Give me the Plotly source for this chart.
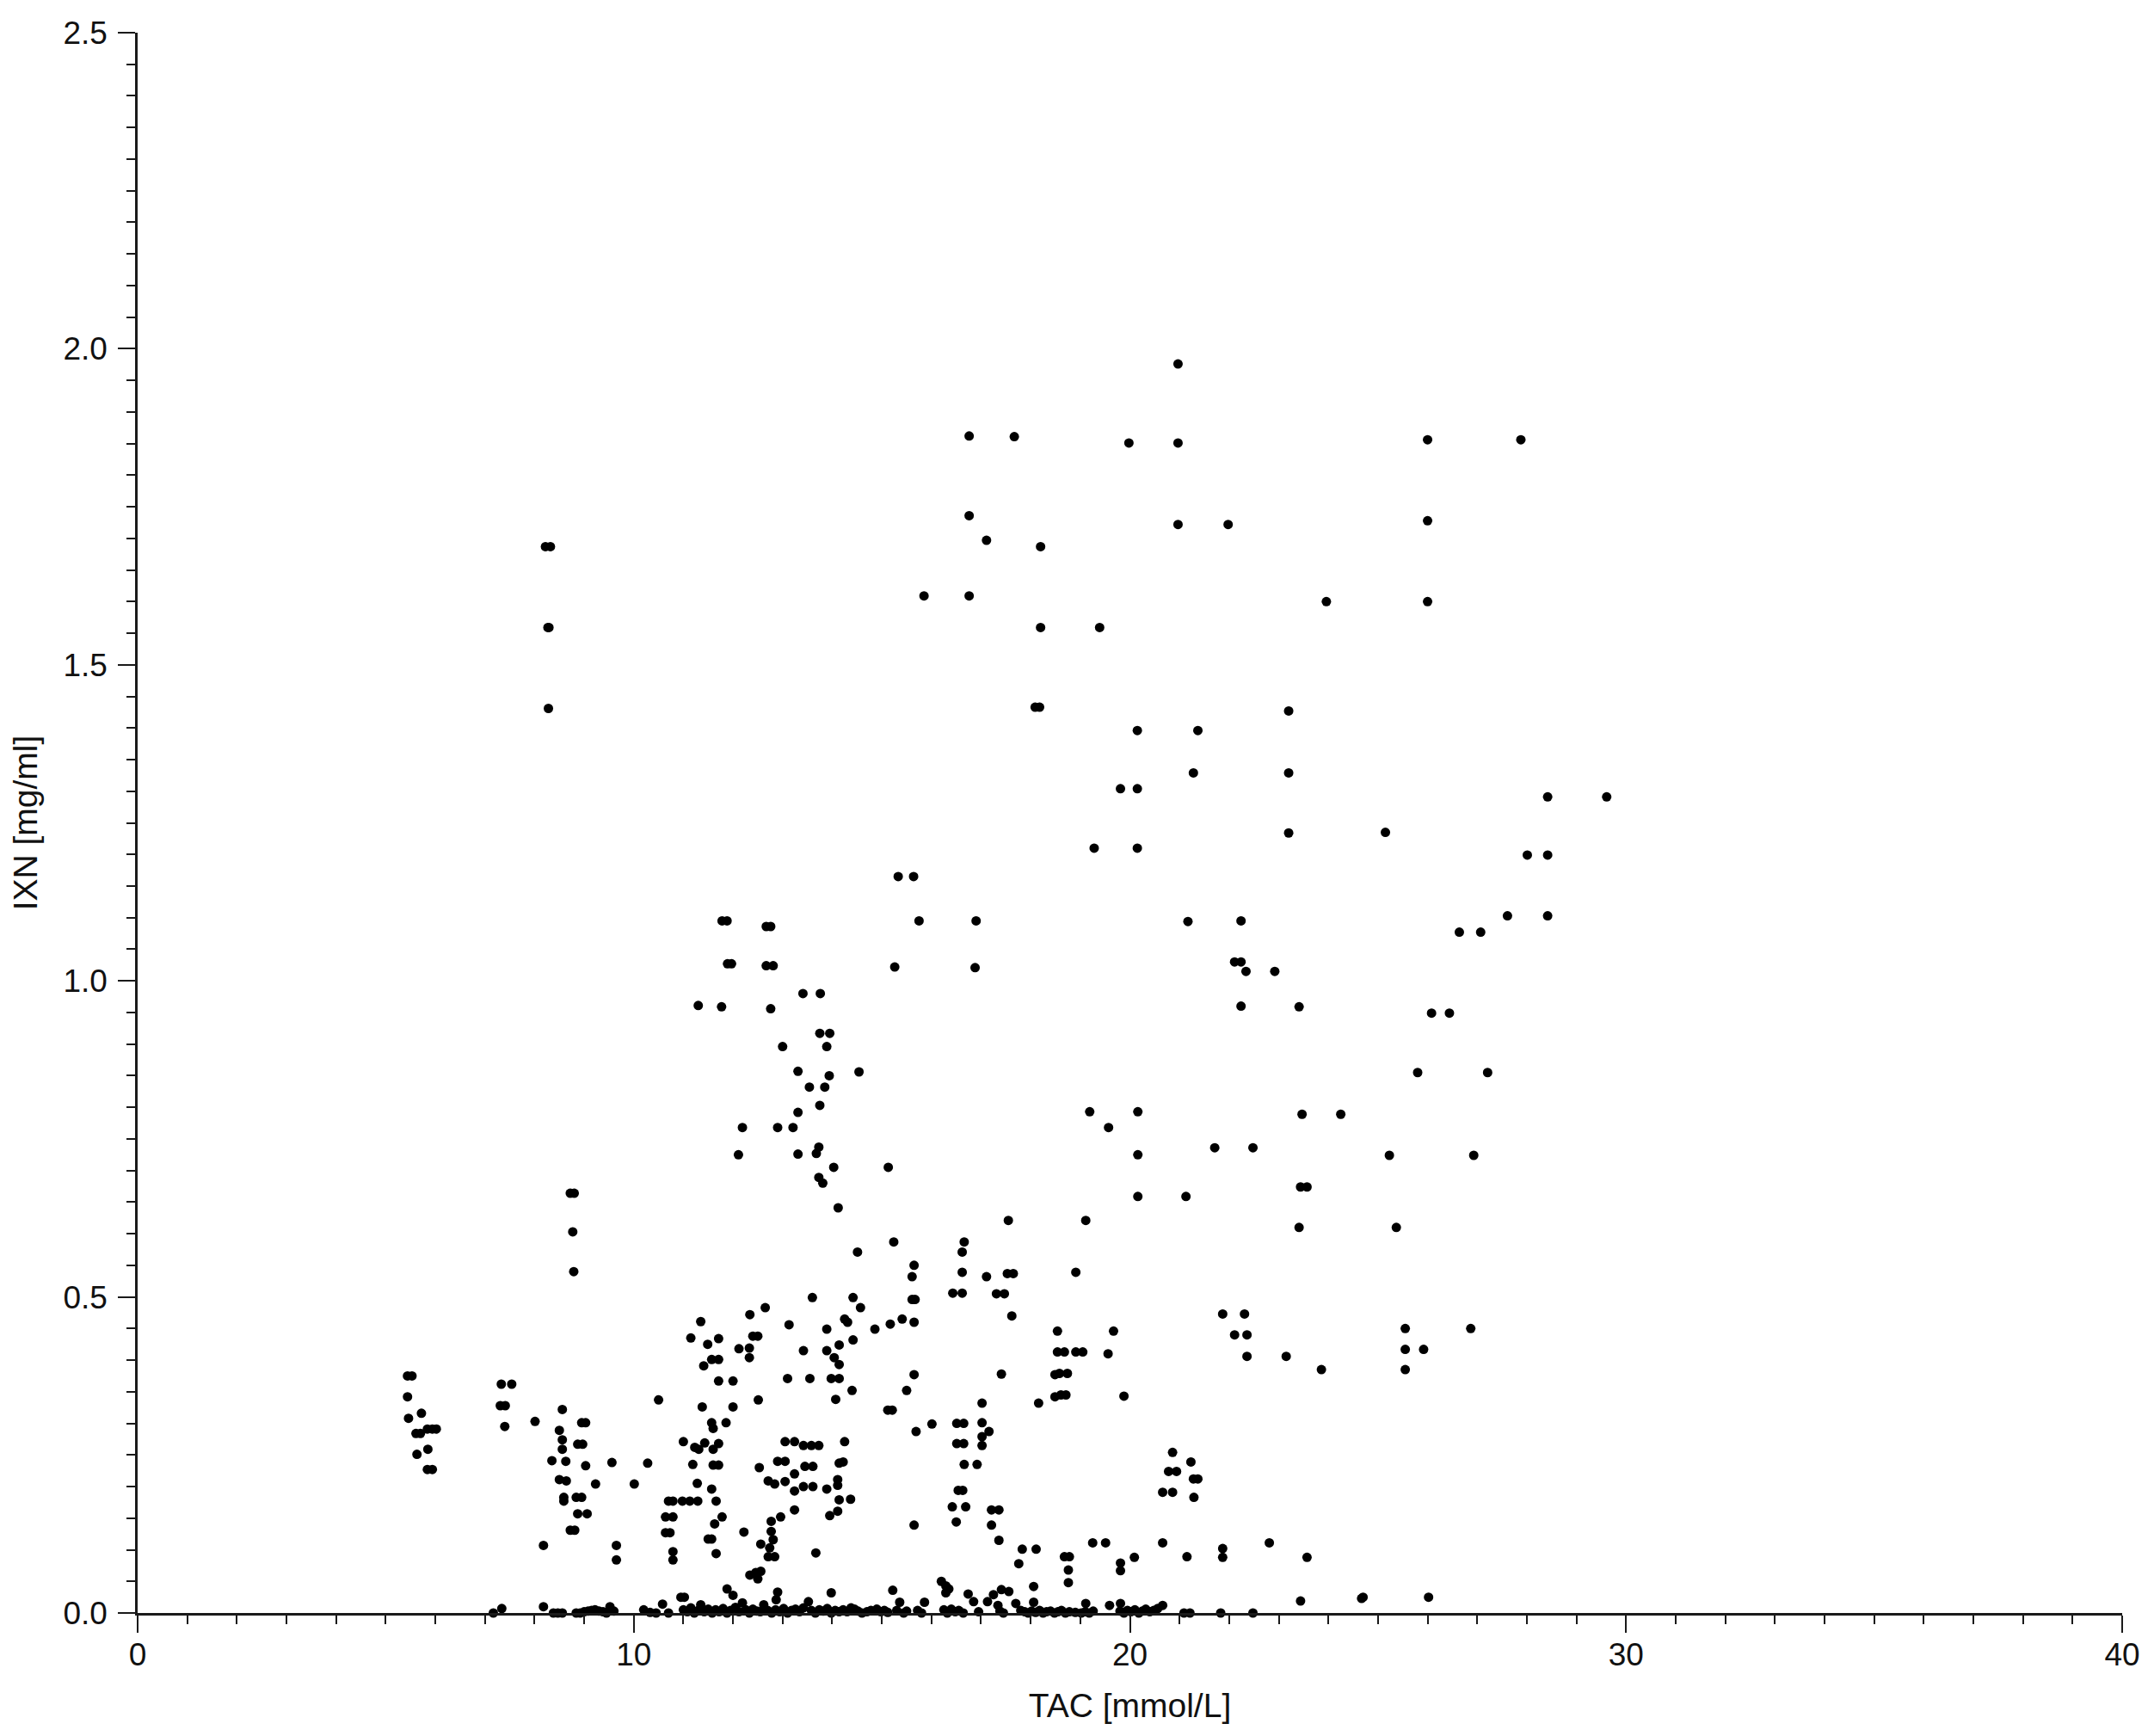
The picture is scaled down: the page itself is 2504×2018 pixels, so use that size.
import plotly.graph_objects as go

# ---- data (TAC [mmol/L] vs IXN [mg/ml]) ----
tac_left = [5.44, 5.53, 5.44, 5.46, 5.72, 5.61, 5.70, 5.84, 5.94, 6.02, 5.85, 5.63, 5.84, 5.94,
            7.33, 7.54, 7.31, 7.41, 7.40, 8.01,
            8.18, 8.56, 8.50, 8.56, 8.56, 8.35, 8.63, 8.50, 8.64, 8.59, 8.59, 8.84, 8.95, 8.87, 9.06,
            8.72, 8.81, 8.79, 8.95, 9.03, 8.87, 8.97, 9.03, 9.23, 9.56, 9.65, 9.65, 10.01, 10.28, 10.50,
            8.22, 8.32, 8.27, 8.29, 8.28, 8.72, 8.80, 8.77]
ixn_left = [0.375, 0.375, 0.342, 0.308, 0.316, 0.284, 0.284, 0.291, 0.291, 0.291, 0.259, 0.251, 0.227, 0.227,
            0.362, 0.362, 0.328, 0.328, 0.295, 0.303,
            0.107, 0.322, 0.289, 0.274, 0.259, 0.241, 0.240, 0.211, 0.209, 0.183, 0.177, 0.183, 0.183, 0.157, 0.157,
            0.131, 0.131, 0.540, 0.301, 0.301, 0.267, 0.267, 0.233, 0.204, 0.238, 0.107, 0.084, 0.204, 0.237, 0.337,
            1.687, 1.687, 1.559, 1.559, 1.431, 0.664, 0.664, 0.603]

tac_mid = [10.70, 10.79, 10.64, 10.79, 10.64, 10.73, 10.79, 10.79,
           11.00, 10.98, 11.13, 11.29, 11.19, 11.23, 11.31, 11.43, 11.28,
           11.15, 11.35, 11.49, 11.71, 11.41, 11.57, 11.71, 11.71, 12.00, 11.38, 12.00, 11.57, 11.60, 11.86,
           11.60, 11.71, 11.60, 11.71, 11.57, 11.66, 11.78, 11.63, 11.50, 11.57, 11.66, 11.88, 12.00, 12.22,
           12.12, 12.33, 12.33, 12.34, 12.40, 12.50, 12.65, 12.51, 12.53, 12.71, 12.84, 12.90, 13.05, 13.05,
           13.24, 13.05, 13.24, 13.24, 13.24, 12.96,
           12.77, 12.77, 12.81, 12.74, 12.71, 12.84, 12.56, 12.34, 12.46, 12.56, 12.50, 12.90, 12.87,
           13.13, 13.42, 13.10, 13.55, 13.60, 13.89, 13.89, 14.14, 14.04, 14.14, 13.98, 14.14, 14.07,
           13.42, 13.58, 13.73, 13.45, 13.61, 13.42, 13.61, 13.89, 13.67, 14.14, 14.11, 14.11, 14.14,
           13.95, 14.11, 13.98]
ixn_mid = [0.177, 0.177, 0.152, 0.152, 0.127, 0.127, 0.097, 0.084,
           0.271, 0.177, 0.177, 0.177, 0.235, 0.262, 0.259, 0.269, 0.205,
           0.435, 0.461, 0.425, 0.434, 0.391, 0.401, 0.401, 0.367, 0.367, 0.326, 0.326, 0.301, 0.292, 0.301,
           0.259, 0.268, 0.234, 0.234, 0.196, 0.177, 0.152, 0.141, 0.117, 0.117, 0.094, 0.038, 0.028, 0.128,
           0.418, 0.419, 0.404, 0.472, 0.438, 0.438, 0.483, 0.337, 0.230, 0.209, 0.204, 0.240, 0.240, 0.271,
           0.271, 0.208, 0.220, 0.193, 0.163, 0.152,
           0.145, 0.129, 0.116, 0.103, 0.089, 0.089, 0.109, 0.060, 0.064, 0.066, 0.054, 0.033, 0.021,
           0.456, 0.415, 0.371, 0.371, 0.499, 0.449, 0.415, 0.424, 0.404, 0.393, 0.371, 0.371, 0.338,
           0.265, 0.265, 0.265, 0.232, 0.232, 0.200, 0.200, 0.196, 0.095, 0.237, 0.211, 0.202, 0.179,
           0.154, 0.161, 0.032]

tac_mid_high = [11.78, 11.88, 12.67, 12.76, 11.89, 11.97, 12.67, 12.81, 13.41, 13.76, 11.30, 11.77, 12.76,
                13.75, 13.95, 13.00, 13.89, 13.31, 13.94, 13.54, 13.85, 13.75, 13.31, 12.19, 12.90, 13.21,
                12.11, 13.31, 13.73, 13.68, 14.03, 13.73, 13.81, 14.12]
ixn_mid_high = [1.095, 1.095, 1.086, 1.086, 1.027, 1.027, 1.024, 1.024, 0.980, 0.980, 0.961, 0.959, 0.956,
                0.917, 0.917, 0.896, 0.896, 0.857, 0.850, 0.832, 0.832, 0.803, 0.792, 0.768, 0.768, 0.768,
                0.725, 0.726, 0.737, 0.727, 0.705, 0.689, 0.680, 0.641]

tac_center = [15.24, 14.51, 16.66, 16.62, 16.62, 16.43, 16.62, 15.65, 15.61, 15.61, 15.67, 15.65, 14.42, 14.57,
              14.25, 14.31, 14.86, 15.17, 15.41, 14.42, 17.11, 17.31, 17.47, 17.53, 17.65, 17.62, 18.91,
              15.65, 15.50, 14.40, 15.12, 15.21, 15.69, 16.01, 14.25, 14.22, 14.37, 15.65, 17.41,
              16.51, 16.65, 16.51, 16.65, 16.66, 16.92, 16.54, 16.63, 16.42, 16.69, 16.50,
              17.02, 17.02, 17.16, 17.02, 17.02, 17.21, 17.36, 17.21, 17.36, 18.16,
              18.54, 18.54, 18.68, 18.49, 18.58, 18.74, 18.49, 18.61, 18.71, 18.91, 19.05, 19.67, 19.56, 19.88,
              17.83, 18.11, 17.76, 18.06, 18.68, 18.78, 18.76, 18.76, 19.25, 19.51, 19.81, 19.81, 20.09,
              20.66, 21.15, 21.87, 21.87, 22.81, 23.57, 23.44,
              20.86, 20.78, 20.94, 20.66, 20.86, 21.23, 21.28, 21.37, 21.29,
              21.87, 22.31, 22.11, 22.36, 22.36, 23.15, 23.86,
              15.22, 15.36, 15.86, 16.20, 16.29, 16.35, 16.29, 16.74, 16.85, 17.13, 17.25, 17.41, 17.56,
              17.34, 17.70, 18.06, 19.11, 19.59, 19.81, 20.66]
ixn_center = [0.587, 0.571, 0.587, 0.571, 0.539, 0.506, 0.506, 0.550, 0.532, 0.496, 0.496, 0.460, 0.499, 0.483,
              0.465, 0.460, 0.449, 0.457, 0.465, 0.432, 0.532, 0.505, 0.505, 0.537, 0.537, 0.470, 0.539,
              0.377, 0.352, 0.352, 0.321, 0.321, 0.287, 0.299, 0.271, 0.239, 0.180, 0.139, 0.378,
              0.300, 0.300, 0.268, 0.268, 0.235, 0.235, 0.194, 0.194, 0.168, 0.168, 0.144,
              0.332, 0.301, 0.287, 0.279, 0.265, 0.163, 0.163, 0.139, 0.115, 0.332,
              0.446, 0.413, 0.413, 0.377, 0.379, 0.379, 0.342, 0.345, 0.345, 0.413, 0.413, 0.446, 0.410, 0.343,
              0.101, 0.101, 0.078, 0.042, 0.089, 0.089, 0.068, 0.048, 0.111, 0.111, 0.079, 0.067, 0.088,
              0.111, 0.089, 0.102, 0.088, 0.111, 0.088, 0.019,
              0.254, 0.224, 0.224, 0.191, 0.191, 0.239, 0.212, 0.212, 0.183,
              0.473, 0.473, 0.440, 0.440, 0.406, 0.406, 0.385,
              0.036, 0.017, 0.017, 0.050, 0.043, 0.038, 0.032, 0.030, 0.018, 0.018, 0.029, 0.037, 0.034,
              0.012, 0.015, 0.017, 0.015, 0.012, 0.015, 0.012]

tac_center_high = [15.33, 15.64, 15.75, 16.90, 15.26, 16.88, 21.17, 22.24, 22.11, 22.24, 22.34, 22.92, 22.24,
                   23.41, 14.54, 19.19, 20.16, 19.57, 20.16, 21.71, 22.48, 23.47, 23.44, 23.57, 23.41, 20.16,
                   21.13, 15.13, 17.55, 19.11,
                   20.97, 16.76, 17.67, 19.98, 20.97, 16.76, 17.11, 18.20, 20.97, 21.98, 15.85, 16.76, 18.20,
                   19.39, 18.09, 18.18, 23.20, 23.96,
                   20.15, 21.37, 21.28, 23.20, 19.81, 20.15, 23.20, 19.28, 20.15]
ixn_center_high = [1.165, 1.165, 1.095, 1.095, 1.022, 1.021, 1.094, 1.095, 1.030, 1.030, 1.015, 1.015, 0.960,
                   0.959, 0.856, 0.793, 0.793, 0.768, 0.725, 0.736, 0.736, 0.789, 0.674, 0.674, 0.610, 0.659,
                   0.659, 0.705, 0.621, 0.621,
                   1.976, 1.862, 1.861, 1.851, 1.851, 1.736, 1.697, 1.687, 1.722, 1.722, 1.609, 1.609, 1.559,
                   1.559, 1.433, 1.433, 1.427, 1.600,
                   1.396, 1.396, 1.329, 1.329, 1.304, 1.304, 1.234, 1.210, 1.210]

tac_right = [26.00, 27.88, 26.00, 26.00, 28.42, 29.61, 25.15, 28.01, 28.42, 27.61, 28.42, 26.64, 27.07,
             26.08, 26.44, 25.80, 27.21, 24.25, 25.23, 26.93, 25.37, 25.55, 26.87, 25.55, 25.92, 25.55,
             24.67, 24.70, 26.02]
ixn_right = [1.856, 1.856, 1.728, 1.600, 1.291, 1.291, 1.235, 1.199, 1.199, 1.103, 1.103, 1.077, 1.077,
             0.949, 0.949, 0.855, 0.855, 0.789, 0.724, 0.724, 0.610, 0.450, 0.450, 0.417, 0.417, 0.385,
             0.023, 0.025, 0.025]

tac_baseline = [7.17, 7.34, 8.18, 8.38, 8.47, 8.56, 8.84, 8.92, 9.00, 9.08, 9.15, 9.22, 9.30, 9.38, 9.45,
                9.52, 9.60, 10.20, 10.33, 10.45, 10.58, 10.70,
                10.95, 11.02, 11.00, 11.08, 11.15, 11.22, 11.30, 11.35, 11.42, 11.50, 11.58, 11.65, 11.72,
                11.80, 11.88, 11.95, 12.05, 12.12, 12.19, 12.26, 12.33, 12.40, 12.48, 12.55, 12.62, 12.70,
                12.78, 12.86, 12.94, 13.02, 13.10, 13.18, 13.26, 13.34, 13.42, 13.52, 13.58, 13.66, 13.74,
                13.82, 13.90, 13.98, 14.06, 14.14,
                14.22, 14.30, 14.38, 14.45, 14.52, 14.60, 14.70, 14.78, 14.90, 14.98, 15.05, 15.12, 15.30,
                15.44, 15.50, 15.72, 15.80, 16.25, 16.32, 16.40, 16.48, 16.55, 16.64, 16.95, 17.38, 17.45,
                17.80, 17.88, 17.95, 18.02, 18.10, 18.18, 18.25, 18.32, 18.40, 18.48, 18.55, 18.62, 18.70,
                18.78, 18.90, 19.02, 19.10, 19.18, 19.26, 19.80, 19.88, 19.95, 20.02, 20.10, 20.18, 20.25,
                20.32, 20.40, 20.48, 20.56, 21.09, 21.21, 21.83, 22.48]
ixn_baseline = [0.000, 0.007, 0.010, 0.000, 0.000, 0.000, 0.000, 0.000, 0.002, 0.003, 0.004, 0.005, 0.003,
                0.002, 0.000, 0.010, 0.003, 0.005, 0.001, 0.000, 0.014, 0.000,
                0.025, 0.025, 0.005, 0.002, 0.008, 0.000, 0.004, 0.013, 0.002, 0.006, 0.000, 0.005, 0.002,
                0.007, 0.000, 0.004, 0.009, 0.002, 0.016, 0.005, 0.000, 0.006, 0.003, 0.002, 0.013, 0.004,
                0.000, 0.005, 0.002, 0.007, 0.000, 0.004, 0.006, 0.002, 0.008, 0.018, 0.004, 0.000, 0.005,
                0.003, 0.007, 0.000, 0.004, 0.002,
                0.005, 0.002, 0.008, 0.006, 0.003, 0.000, 0.002, 0.004, 0.006, 0.002, 0.004, 0.001, 0.004,
                0.000, 0.003, 0.004, 0.000, 0.005, 0.000, 0.006, 0.002, 0.004, 0.000, 0.002, 0.003, 0.000,
                0.004, 0.002, 0.000, 0.003, 0.001, 0.004, 0.000, 0.002, 0.003, 0.000, 0.002, 0.004, 0.000,
                0.002, 0.001, 0.000, 0.002, 0.000, 0.003, 0.003, 0.000, 0.004, 0.002, 0.005, 0.000, 0.003,
                0.006, 0.002, 0.004, 0.007, 0.000, 0.000, 0.000, 0.000]

x_tick_vals = [0, 10, 20, 30, 40]
y_tick_vals = [0.0, 0.5, 1.0, 1.5, 2.0, 2.5]
x_title = "TAC [mmol/L]"
y_title = "IXN [mg/ml]"

groups = [
    (tac_left, ixn_left),
    (tac_mid, ixn_mid),
    (tac_mid_high, ixn_mid_high),
    (tac_center, ixn_center),
    (tac_center_high, ixn_center_high),
    (tac_right, ixn_right),
    (tac_baseline, ixn_baseline),
]

fig = go.Figure()
for gx, gy in groups:
    fig.add_trace(go.Scatter(
        x=gx, y=gy, mode="markers", cliponaxis=False, showlegend=False,
        marker=dict(color="black", size=11, line=dict(width=0)),
    ))

font_family = "Liberation Sans, Arial, Helvetica, sans-serif"
axis_common = dict(
    showgrid=False, zeroline=False, showline=True, linecolor="#1a1a1a", linewidth=2.5,
    ticks="outside", ticklen=20, tickwidth=2.2, tickcolor="#1a1a1a", automargin=False,
    tickfont=dict(family=font_family, size=37, color="#111"),
)

fig.update_layout(
    width=2504, height=2018,
    paper_bgcolor="white", plot_bgcolor="white",
    margin=dict(l=152, r=45, t=30, b=151),
    font=dict(family=font_family, color="#111"),
    xaxis=dict(
        range=[0, 40], tickvals=x_tick_vals, ticktext=[str(v) for v in x_tick_vals],
        ticklabelstandoff=-6,
        minor=dict(dtick=1, ticks="outside", ticklen=10, tickwidth=2, tickcolor="#1a1a1a"),
        title=dict(text=x_title, font=dict(family=font_family, size=39, color="#111"), standoff=26),
        **axis_common,
    ),
    yaxis=dict(
        range=[0, 2.5], tickvals=y_tick_vals, ticktext=[f"{v:.1f}" for v in y_tick_vals],
        ticklabelstandoff=5,
        minor=dict(dtick=0.05, ticks="outside", ticklen=10, tickwidth=2, tickcolor="#1a1a1a"),
        title=dict(text=y_title, font=dict(family=font_family, size=39, color="#111"), standoff=24),
        **axis_common,
    ),
)

fig.write_html("out.html")
